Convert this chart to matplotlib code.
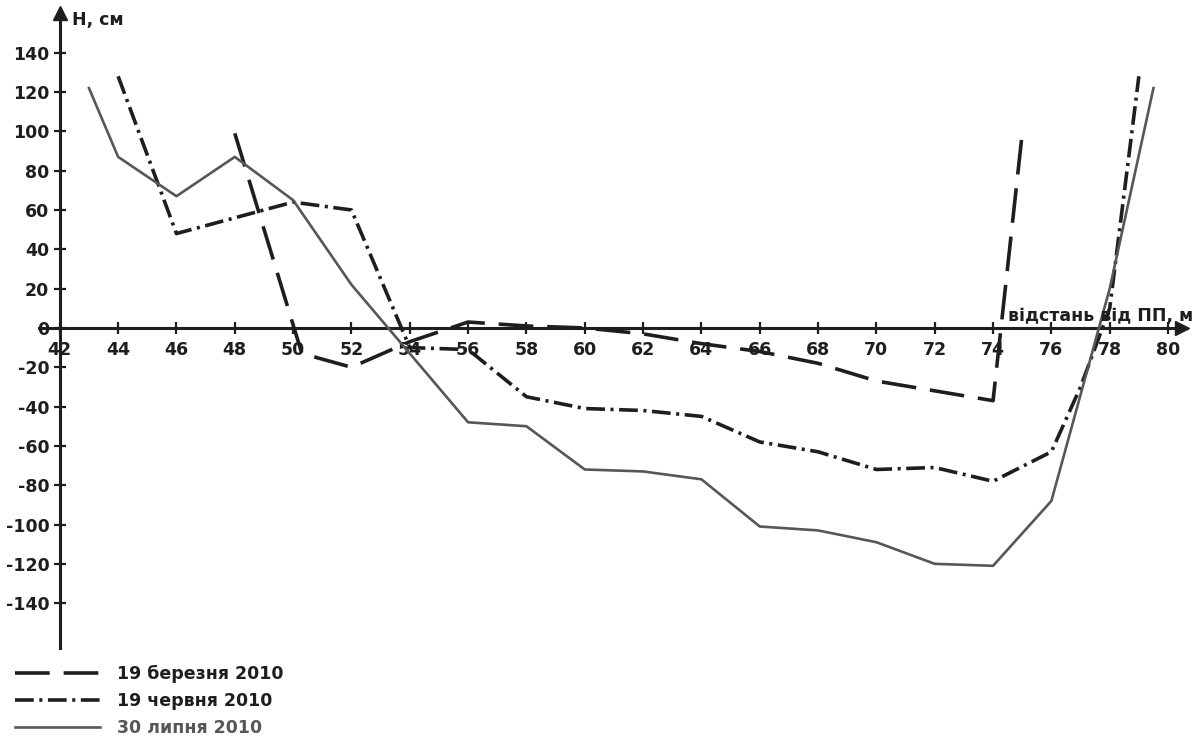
import matplotlib
matplotlib.use("Agg")
import matplotlib.pyplot as plt

plt.rcParams["font.family"] = ["DejaVu Sans"]
plt.rcParams["font.weight"] = "bold"
plt.rcParams["axes.unicode_minus"] = False
plt.rcParams["lines.scale_dashes"] = False

# профілі дна по створу (відстань від ПП, м / відмітка H, см)
dates = ["19 березня 2010", "19 червня 2010", "30 липня 2010"]

x_mar = [48, 50.3, 52, 54, 56, 58, 60, 62, 64, 66, 68, 70, 72, 74, 75]
h_mar = [99, -13, -20, -7, 3, 1, 0, -3, -8, -12, -18, -27, -32, -37, 99]

x_jun = [44, 46, 48, 50, 52, 54, 56, 58, 60, 62, 64, 66, 68, 70, 72, 74, 76, 77, 78, 79]
h_jun = [128, 48, 56, 64, 60, -10, -11, -35, -41, -42, -45, -58, -63, -72, -71, -78, -63, -30, 10, 128]

x_jul = [43, 44, 46, 48, 50, 52, 54, 56, 58, 60, 62, 64, 66, 68, 70, 72, 74, 76, 78, 79.5]
h_jul = [122, 87, 67, 87, 65, 22, -13, -48, -50, -72, -73, -77, -101, -103, -109, -120, -121, -88, 20, 122]

x_ticks = list(range(42, 81, 2))
y_ticks = list(range(-140, 141, 20))

dark = "#1e1e1e"
grey = "#575757"
fs = 12.5

fig = plt.figure(figsize=(11.94, 7.40), dpi=100)
ax = fig.add_axes([0, 0, 1, 1])
ax.set_xlim(39.95, 80.89)
ax.set_ylim(-209.6, 166.8)

l1, = ax.plot(x_mar, h_mar, color=dark, lw=2.6, ls=(0, (25, 10)), zorder=3)
l2, = ax.plot(x_jun, h_jun, color=dark, lw=2.6, ls=(0, (13.5, 4, 2.2, 4)), zorder=3)
l3, = ax.plot(x_jul, h_jul, color=grey, lw=1.9, zorder=3)

# осі через нуль
for s in ["top", "right"]:
    ax.spines[s].set_visible(False)
ax.spines["left"].set_position(("data", 42))
ax.spines["bottom"].set_position(("data", 0))
ax.spines["left"].set_bounds(-163, 158)
ax.spines["bottom"].set_bounds(41.3, 80.4)
for s in ["left", "bottom"]:
    ax.spines[s].set_linewidth(2.2)
    ax.spines[s].set_color(dark)

ax.set_xticks(x_ticks)
ax.set_xticklabels([str(v) for v in x_ticks])
ax.set_yticks(y_ticks)
ax.set_yticklabels([str(v) for v in y_ticks])
ax.tick_params(direction="inout", length=9, width=1.6, color=dark,
               labelsize=fs, labelcolor=dark)
ax.tick_params(axis="x", pad=5)
ax.tick_params(axis="y", pad=3)

# стрілки на кінцях осей
ax.plot(42, 160, marker="^", ms=10, color=dark, clip_on=False, zorder=4)
ax.plot(80.47, 0, marker=">", ms=10, color=dark, clip_on=False, zorder=4)

ax.text(42.42, 156.5, "H, см", ha="left", va="center", fontsize=fs, color=dark)
ax.text(80.85, 3.5, "відстань від ПП, м", ha="right", va="baseline",
        fontsize=fs, color=dark)

leg = fig.legend([l1, l2, l3], dates, loc="upper left",
                 bbox_to_anchor=(15 / 1194, 1 - 665 / 740),
                 frameon=False, fontsize=fs, handlelength=4.9,
                 handletextpad=0.98, labelspacing=0.52, borderpad=0,
                 borderaxespad=0)
for t, c in zip(leg.get_texts(), [dark, dark, grey]):
    t.set_color(c)

fig.savefig("out.png", dpi=100)
